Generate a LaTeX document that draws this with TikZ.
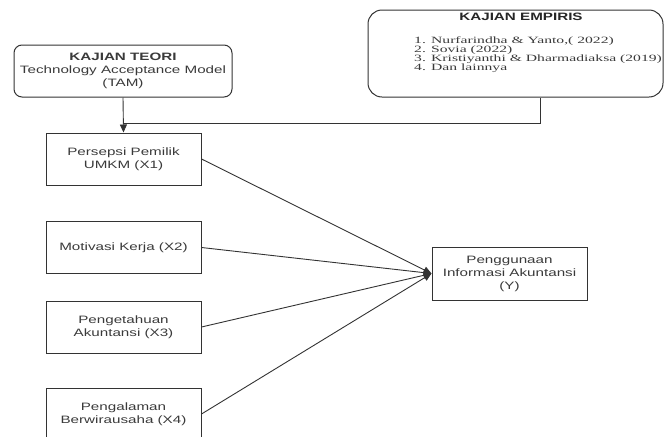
\documentclass[tikz,border=0pt]{standalone}
\usepackage{fontspec}
\newfontfamily\boxfont[FakeStretch=1.42]{Liberation Sans}
\newfontfamily\listfont[FakeStretch=1.63]{Liberation Serif}
\usetikzlibrary{arrows.meta}
\definecolor{ink}{HTML}{333333}
\definecolor{txt}{HTML}{3A3A3A}
\begin{document}
\begin{tikzpicture}[x=1pt,y=-1pt,
  box/.style={draw=ink, line width=1pt, minimum width=155pt, minimum height=52pt,
    inner sep=0pt, align=center, text=txt, font=\boxfont\fontsize{10.7}{13}\selectfont},
  rbox/.style={box, rounded corners=8pt, minimum width=218pt},
  ebox/.style={draw=ink, line width=1pt, rounded corners=14pt, minimum width=295pt,
    minimum height=87pt, inner sep=0pt},
  head/.style={inner sep=0pt, text=black!85, font=\boxfont\bfseries\fontsize{10.7}{13}\selectfont},
  lst/.style={inner sep=0pt, align=left, text=txt, font=\listfont\fontsize{9.6}{9.1}\selectfont},
  link/.style={draw=ink, line width=0.9pt},
  arr/.style={link, -{Triangle[length=8pt,width=7pt]}}]
\useasboundingbox (0,0) rectangle (665,437);

% theory box
\node[rbox] (teori) at (123,71) {{\bfseries KAJIAN TEORI}\\Technology Acceptance Model\\(TAM)};

% empirical box
\node[ebox] (emp) at (515.5,53.5) {};
\node[head] (emphead) at (521,17) {KAJIAN EMPIRIS};
\node[lst, anchor=west] (emplist) at (414,55) {1. Nurfarindha \& Yanto,( 2022)\\2. Sovia (2022)\\3. Kristiyanthi \& Dharmadiaksa (2019)\\4. Dan lainnya};

% variables
\node[box] (x1) at (123.5,159) {Persepsi Pemilik\\UMKM (X1)};
\node[box] (x2) at (123.5,247.5) {Motivasi Kerja (X2)};
\node[box] (x3) at (123.5,327) {Pengetahuan\\Akuntansi (X3)};
\node[box] (x4) at (123.5,414) {Pengalaman\\Berwirausaha (X4)};
\node[box, minimum height=53pt] (y) at (509.5,273.5) {Penggunaan\\Informasi Akuntansi\\(Y)};

% connectors from theory / empirical
\coordinate (j) at (123,123);
\coordinate (ej) at (540,123);
\draw[arr] (teori.south) -- (x1.north);
\draw[link] (emp.south -| ej) -- (ej) -- (j);

% arrows to Y
\draw[arr] (x1.east) -- (y.west);
\draw[arr] (x2.east) -- (y.west);
\draw[arr] (x3.east) -- (y.west);
\draw[arr] (x4.east) -- (y.west);
\end{tikzpicture}
\end{document}
